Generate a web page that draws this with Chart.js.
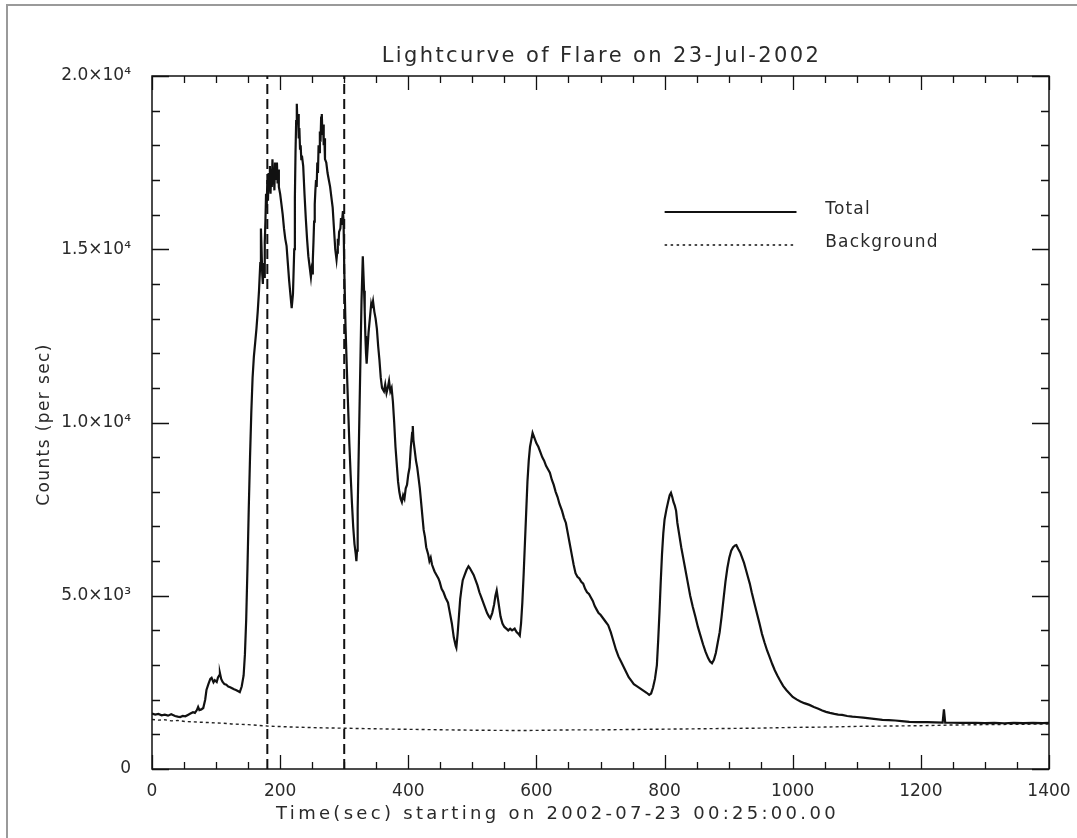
<!DOCTYPE html>
<html>
<head>
<meta charset="utf-8">
<title>Lightcurve of Flare on 23-Jul-2002</title>
<script src="https://cdn.jsdelivr.net/npm/chart.js@4.4.1/dist/chart.umd.min.js"></script>
<style>
  html, body { margin: 0; padding: 0; background: #ffffff; }
  canvas { display: block; }
</style>
</head>
<body>
<canvas id="lightcurve" width="1077" height="838"></canvas>
<script>
// Total count rate, [seconds since 00:25:00, counts per second]
const totalSeries = [
  [0,1600],[5,1570],[10,1590],[15,1550],[20,1570],[25,1540],[30,1580],[36,1530],[40,1510],[44,1500],
  [48,1530],[52,1520],[56,1560],[60,1600],[64,1640],[67,1620],[70,1700],[72,1790],[74,1700],[77,1720],
  [80,1760],[83,2000],[85,2280],[88,2450],[91,2600],[93,2630],[96,2500],[98,2560],[101,2510],[103,2640],
  [105,2700],[106,2770],[108,2600],[110,2520],[113,2450],[116,2430],[119,2380],[122,2360],[125,2330],[128,2300],
  [131,2280],[134,2250],[137,2220],[140,2380],[143,2700],[145,3300],[147,4300],[149,5800],[151,7500],[153,9000],
  [155,10300],[157,11300],[159,11900],[161,12300],[163,12700],[165,13200],[167,13800],[169,14600],[170,15600],[171,15000],
  [172,14300],[173,14000],[174,14600],[175,14200],[176,15200],[177,15800],[178,16600],[179,16200],[180,17000],[181,16400],
  [182,17200],[183,16700],[184,17400],[185,16600],[186,17300],[187,16800],[188,17600],[189,16900],[190,17300],[191,16700],
  [192,17500],[193,17000],[195,17500],[196,16900],[197,17300],[198,16800],[200,16600],[202,16300],[204,16000],[206,15600],
  [208,15300],[210,15100],[212,14600],[214,14100],[216,13700],[218,13300],[220,13700],[222,15000],[223,16500],[224,17800],
  [225,18700],[226,19200],[227,18600],[228,18900],[229,18200],[230,18500],[231,17900],[232,18000],[233,17600],[234,17700],
  [236,17400],[238,16600],[240,15900],[242,15300],[244,14800],[246,14500],[248,14200],[249,14400],[250,14300],[251,14700],
  [252,15200],[253,15800],[254,16300],[255,16700],[256,17000],[257,16800],[258,17500],[259,17200],[260,18000],[261,17800],
  [262,18400],[263,18100],[264,18800],[265,18900],[266,18300],[267,18600],[268,18000],[269,18200],[270,17600],[272,17500],
  [274,17200],[276,17000],[278,16800],[280,16500],[282,16200],[284,15600],[286,15000],[288,14700],[289,14900],[290,15300],
  [291,15100],[292,15500],[294,15600],[295,15900],[296,15700],[298,16100],[299,15800],[300,14500],[302,12800],[304,11600],
  [306,10500],[308,9400],[310,8500],[312,7700],[314,7000],[316,6500],[318,6200],[319,6000],[320,6300],[321,7500],
  [323,9500],[325,11500],[327,13500],[329,14800],[330,14300],[331,13800],[332,13200],[333,12500],[334,12000],[335,11700],
  [336,12000],[338,12600],[340,13000],[342,13400],[343,13300],[345,13500],[347,13200],[349,13000],[351,12700],[353,12200],
  [355,11800],[357,11300],[359,11000],[362,10900],[364,11100],[366,10850],[368,11000],[370,11200],[372,10900],[374,11000],
  [376,10600],[378,10000],[380,9300],[382,8800],[384,8300],[386,8000],[388,7800],[390,7700],[392,7900],[394,7800],
  [396,8100],[398,8200],[400,8500],[402,8700],[404,9300],[406,9700],[407,9900],[408,9500],[410,9200],[412,8900],
  [414,8700],[416,8400],[418,8100],[420,7700],[422,7300],[424,6900],[426,6700],[428,6400],[431,6200],[433,6000],
  [435,6100],[437,5900],[439,5800],[441,5700],[444,5600],[447,5500],[449,5400],[452,5200],[455,5100],[458,4950],
  [462,4800],[465,4500],[468,4200],[471,3800],[474,3550],[475,3500],[477,3900],[479,4400],[481,4900],[483,5200],
  [485,5450],[488,5600],[491,5750],[494,5850],[496,5800],[499,5700],[502,5600],[505,5450],[508,5300],[511,5100],
  [514,4950],[517,4800],[520,4650],[523,4500],[526,4400],[528,4350],[531,4500],[534,4750],[536,5000],[538,5150],
  [540,4900],[542,4650],[544,4400],[547,4200],[550,4100],[553,4050],[556,4000],[559,4050],[562,4000],[566,4050],
  [569,3950],[572,3900],[574,3850],[576,4200],[578,4800],[580,5600],[582,6500],[584,7400],[586,8300],[588,8900],
  [590,9300],[592,9500],[594,9700],[596,9600],[598,9500],[600,9400],[603,9300],[606,9150],[609,9000],[612,8900],
  [615,8750],[618,8650],[621,8550],[624,8350],[627,8200],[630,8000],[633,7850],[636,7650],[640,7450],[643,7250],
  [646,7100],[649,6800],[652,6500],[655,6200],[658,5900],[661,5650],[664,5550],[667,5500],[670,5400],[673,5350],
  [676,5200],[679,5100],[682,5050],[685,4950],[688,4850],[691,4700],[694,4600],[697,4500],[700,4450],[704,4350],
  [708,4250],[712,4150],[716,3950],[720,3700],[724,3450],[728,3250],[732,3100],[736,2950],[740,2800],[744,2650],
  [748,2550],[752,2450],[756,2400],[760,2350],[764,2300],[768,2250],[772,2200],[776,2140],[779,2180],[782,2350],
  [785,2600],[788,3000],[790,3700],[792,4500],[794,5400],[796,6200],[798,6800],[800,7200],[803,7500],[806,7750],
  [808,7900],[810,7970],[812,7850],[814,7700],[816,7600],[818,7450],[820,7100],[823,6750],[826,6400],[829,6100],
  [832,5800],[836,5400],[840,5000],[844,4680],[848,4400],[852,4100],[856,3850],[860,3600],[864,3380],[868,3200],
  [871,3100],[874,3050],[877,3150],[880,3350],[883,3650],[886,3950],[889,4400],[892,4900],[895,5400],[898,5800],
  [901,6100],[904,6300],[907,6400],[910,6450],[912,6460],[915,6350],[918,6250],[921,6100],[924,5950],[927,5750],
  [930,5550],[933,5350],[936,5100],[940,4800],[944,4500],[948,4210],[952,3900],[956,3650],[960,3420],[964,3230],
  [968,3030],[972,2850],[976,2700],[980,2560],[985,2400],[990,2280],[995,2180],[1000,2080],[1006,2010],[1012,1950],
  [1018,1900],[1026,1850],[1033,1790],[1040,1740],[1046,1690],[1052,1650],[1058,1620],[1065,1590],[1071,1570],[1077,1560],
  [1085,1530],[1093,1510],[1100,1500],[1110,1480],[1120,1460],[1130,1440],[1140,1420],[1150,1410],[1160,1400],[1170,1380],
  [1182,1360],[1195,1355],[1210,1350],[1222,1345],[1234,1340],[1236,1720],[1238,1340],[1250,1335],[1262,1330],[1275,1335],
  [1286,1330],[1300,1325],[1315,1330],[1330,1320],[1345,1330],[1360,1325],[1375,1330],[1390,1325],[1400,1330]
];

// Background count rate
const backgroundSeries = [
  [0,1430],[10,1410],[20,1420],[30,1390],[40,1400],[52,1370],[64,1360],[76,1350],[88,1340],[100,1330],
  [112,1320],[124,1300],[137,1290],[150,1280],[165,1260],[180,1240],[200,1225],[220,1210],[240,1200],[260,1190],
  [293,1180],[320,1170],[350,1160],[380,1150],[420,1140],[460,1130],[500,1120],[540,1115],[580,1110],[620,1120],
  [660,1130],[700,1130],[750,1140],[800,1150],[850,1160],[900,1170],[950,1180],[1000,1200],[1050,1210],[1100,1230],
  [1150,1240],[1200,1250],[1250,1270],[1300,1280],[1350,1290],[1400,1300]
];

// Integration interval boundaries (seconds)
const intervalMarks = [180, 300];

// Axis ticks and labels
const xTickValues = [0, 200, 400, 600, 800, 1000, 1200, 1400];
const yTickValues = [0, 5000, 10000, 15000, 20000];
const yTickLabels = ['0', '5.0\u00d710\u00b3', '1.0\u00d710\u2074', '1.5\u00d710\u2074', '2.0\u00d710\u2074'];
const xMinorStep = 50;
const yMinorStep = 1000;

const titleText = 'Lightcurve of Flare on 23-Jul-2002';
const xAxisTitle = 'Time(sec) starting on 2002-07-23 00:25:00.00';
const yAxisTitle = 'Counts (per sec)';
const legendNames = ['Total', 'Background'];

const toPoints = s => s.map(([x, y]) => ({ x, y }));
const FONT = '"DejaVu Sans", "Liberation Sans", sans-serif';
const INK = '#111111';
const TEXT = '#2a2a2a';

// Page frame, plot frame with inward ticks on all sides, titles and legend
const decorations = {
  id: 'decorations',
  beforeDraw(chart) {
    const { ctx, width, height } = chart;
    ctx.save();
    ctx.fillStyle = '#ffffff';
    ctx.fillRect(0, 0, width, height);
    ctx.strokeStyle = '#9a9a9a';
    ctx.lineWidth = 2;
    ctx.beginPath();
    ctx.moveTo(7, height);
    ctx.lineTo(7, 5);
    ctx.lineTo(width, 5);
    ctx.stroke();
    ctx.restore();
  },
  afterDraw(chart) {
    const { ctx, chartArea: a, scales: { x, y } } = chart;
    ctx.save();
    ctx.strokeStyle = INK;
    ctx.lineWidth = 1.5;
    ctx.strokeRect(a.left, a.top, a.right - a.left, a.bottom - a.top);

    ctx.lineWidth = 1.3;
    ctx.beginPath();
    for (let v = x.min; v <= x.max; v += xMinorStep) {
      const px = Math.round(x.getPixelForValue(v)) + 0.5;
      const len = xTickValues.includes(v) ? 14 : 7;
      ctx.moveTo(px, a.bottom); ctx.lineTo(px, a.bottom - len);
      ctx.moveTo(px, a.top); ctx.lineTo(px, a.top + len);
    }
    for (let v = y.min; v <= y.max; v += yMinorStep) {
      const py = Math.round(y.getPixelForValue(v)) + 0.5;
      const len = yTickValues.includes(v) ? 17 : 8;
      ctx.moveTo(a.left, py); ctx.lineTo(a.left + len, py);
      ctx.moveTo(a.right, py); ctx.lineTo(a.right - len, py);
    }
    ctx.stroke();

    const cx = (a.left + a.right) / 2;
    ctx.fillStyle = TEXT;
    ctx.textBaseline = 'middle';

    // plot title
    ctx.letterSpacing = '2.4px';
    ctx.font = '21px ' + FONT;
    ctx.textAlign = 'center';
    ctx.fillText(titleText, cx + 1, a.top - 19);

    // x-axis title
    ctx.letterSpacing = '3.3px';
    ctx.font = '18px ' + FONT;
    ctx.fillText(xAxisTitle, cx - 43, a.bottom + 45);

    // y-axis title
    ctx.letterSpacing = '1.4px';
    ctx.font = '17px ' + FONT;
    ctx.save();
    ctx.translate(45, (a.top + a.bottom) / 2 + 2);
    ctx.rotate(-Math.PI / 2);
    ctx.fillText(yAxisTitle, 0, 0);
    ctx.restore();

    // legend
    const lx0 = a.left + (a.right - a.left) * 0.5715;
    const lx1 = a.left + (a.right - a.left) * 0.7185;
    const tx = a.left + (a.right - a.left) * 0.7505;
    const rows = [a.top + 136, a.top + 169];
    ctx.lineWidth = 2;
    ctx.beginPath();
    ctx.moveTo(lx0, rows[0]); ctx.lineTo(lx1, rows[0]);
    ctx.stroke();
    ctx.lineWidth = 1.6;
    ctx.setLineDash([2.5, 3.5]);
    ctx.beginPath();
    ctx.moveTo(lx0, rows[1]); ctx.lineTo(lx1, rows[1]);
    ctx.stroke();
    ctx.setLineDash([]);
    ctx.letterSpacing = '1.2px';
    ctx.font = '17px ' + FONT;
    ctx.textAlign = 'left';
    ctx.fillText(legendNames[0], tx, rows[0] - 2);
    ctx.fillText(legendNames[1], tx, rows[1] - 2);
    ctx.letterSpacing = '0px';
    ctx.restore();
  }
};

const markerSets = intervalMarks.map(t => ({
  label: 'mark' + t,
  data: [{ x: t, y: yTickValues[0] }, { x: t, y: yTickValues[yTickValues.length - 1] }],
  borderColor: INK,
  borderWidth: 2,
  borderDash: [10, 5],
  pointRadius: 0,
  fill: false
}));

new Chart(document.getElementById('lightcurve'), {
  type: 'line',
  data: {
    datasets: [
      {
        label: legendNames[0],
        data: toPoints(totalSeries),
        borderColor: INK,
        borderWidth: 2.2,
        pointRadius: 0,
        tension: 0,
        fill: false
      },
      {
        label: legendNames[1],
        data: toPoints(backgroundSeries),
        borderColor: '#222222',
        borderWidth: 1.4,
        borderDash: [3, 3],
        pointRadius: 0,
        tension: 0,
        fill: false
      },
      ...markerSets
    ]
  },
  options: {
    responsive: false,
    devicePixelRatio: 1,
    animation: false,
    events: [],
    layout: { padding: { top: 76, right: 28, bottom: 0, left: 0 } },
    plugins: {
      legend: { display: false },
      title: { display: false },
      tooltip: { enabled: false }
    },
    scales: {
      x: {
        type: 'linear',
        min: xTickValues[0],
        max: xTickValues[xTickValues.length - 1],
        grid: { display: false },
        border: { display: false },
        afterBuildTicks: s => { s.ticks = xTickValues.map(v => ({ value: v })); },
        afterFit: s => { s.height = 69; },
        ticks: {
          padding: 4,
          maxRotation: 0,
          color: TEXT,
          font: { family: FONT, size: 17 },
          callback: v => String(v)
        }
      },
      y: {
        type: 'linear',
        min: yTickValues[0],
        max: yTickValues[yTickValues.length - 1],
        grid: { display: false },
        border: { display: false },
        afterBuildTicks: s => { s.ticks = yTickValues.map(v => ({ value: v })); },
        afterFit: s => { s.width = 152; },
        ticks: {
          padding: 13,
          color: TEXT,
          font: { family: FONT, size: 17 },
          callback: v => yTickLabels[yTickValues.indexOf(v)]
        }
      }
    }
  },
  plugins: [decorations]
});
</script>
</body>
</html>
